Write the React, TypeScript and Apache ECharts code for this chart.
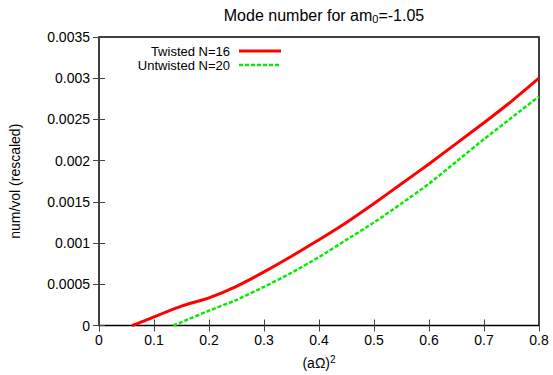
import React, { useEffect, useRef } from "react";
import * as echarts from "echarts";

const twistedX = [0.06, 0.08, 0.1, 0.15, 0.2, 0.25, 0.3, 0.35, 0.4, 0.45, 0.5, 0.55, 0.6, 0.65, 0.7, 0.75, 0.8];
const twistedY = [0, 0.00005, 0.000105, 0.000235, 0.000335, 0.000475, 0.00065, 0.00084, 0.00104, 0.00125, 0.00148, 0.00172, 0.00196, 0.00221, 0.00246, 0.00272, 0.003];
const untwistedX = [0.135, 0.15, 0.2, 0.25, 0.3, 0.35, 0.4, 0.45, 0.5, 0.55, 0.6, 0.65, 0.7, 0.75, 0.8];
const untwistedY = [0, 0.00004, 0.00018, 0.00031, 0.00047, 0.00064, 0.00083, 0.00104, 0.00125, 0.00148, 0.00172, 0.00199, 0.00226, 0.00252, 0.00278];
const seriesNames = ["Twisted N=16", "Untwisted N=20"];

const FONT = "'Liberation Sans', Arial, Helvetica, sans-serif";

export default function App() {
  const ref = useRef<HTMLDivElement>(null);
  useEffect(() => {
    document.body.style.margin = "0";
    if (!ref.current) return;
    const chart = echarts.init(ref.current, undefined, { renderer: "svg" });
    const pairs = (xs: number[], ys: number[]) => xs.map((x, i) => [x, ys[i]]);
    const axisCommon = {
      type: "value" as const,
      axisLine: { show: false },
      splitLine: { show: false },
      axisTick: { show: true, inside: true, length: 6, lineStyle: { color: "#444", width: 1 } },
    };
    chart.setOption({
      animation: false,
      backgroundColor: "#fff",
      textStyle: { fontFamily: FONT },
      title: {
        text: "{a|Mode number for am}{s|0}{a|=-1.05}",
        left: 319,
        textAlign: "center",
        top: 1,
        textStyle: {
          rich: {
            a: { fontSize: 16, fontFamily: FONT, color: "#000", fontWeight: "normal" },
            s: { fontSize: 11, fontFamily: FONT, color: "#000", fontWeight: "normal", verticalAlign: "bottom", padding: [7, 0, 0, 0] },
          },
        },
      },
      grid: { left: 97, right: 14, top: 37, bottom: 46, show: true, borderColor: "#000", borderWidth: 1.5, backgroundColor: "transparent" },
      xAxis: [
        {
          ...axisCommon,
          min: 0, max: 0.8, interval: 0.1,
          position: "bottom",
          name: "{a|(aΩ)}{s|2}",
          nameLocation: "middle",
          nameGap: 29,
          nameTextStyle: {
            rich: {
              a: { fontSize: 14, fontFamily: FONT, color: "#000" },
              s: { fontSize: 10, fontFamily: FONT, color: "#000", verticalAlign: "top", padding: [0, 0, 7, 0] },
            },
          },
          axisLabel: { color: "#000", fontSize: 14, fontFamily: FONT, margin: 7, showMaxLabel: true, showMinLabel: true },
        },
        {
          ...axisCommon,
          min: 0, max: 0.8, interval: 0.1,
          position: "top",
          axisLabel: { show: false },
        },
      ],
      yAxis: [
        {
          ...axisCommon,
          min: 0, max: 0.0035, interval: 0.0005,
          position: "left",
          name: "num/vol (rescaled)",
          nameLocation: "middle",
          nameGap: 77,
          nameRotate: 90,
          nameTextStyle: { fontSize: 14, fontFamily: FONT, color: "#000" },
          axisLabel: { color: "#000", fontSize: 14, fontFamily: FONT, margin: 9 },
        },
        {
          ...axisCommon,
          min: 0, max: 0.0035, interval: 0.0005,
          position: "right",
          axisLabel: { show: false },
        },
      ],
      series: [
        {
          name: seriesNames[0],
          type: "line",
          data: pairs(twistedX, twistedY),
          showSymbol: false,
          smooth: 0.2,
          lineStyle: { color: "#ff0000", width: 3 },
          z: 3,
        },
        {
          name: seriesNames[1],
          type: "line",
          data: pairs(untwistedX, untwistedY),
          showSymbol: false,
          smooth: 0.2,
          lineStyle: { color: "#00ee00", width: 2.5, type: [4, 2] },
          z: 2,
        },
      ],
      graphic: [
        {
          type: "text",
          x: 230,
          y: 51,
          style: { text: seriesNames[0], fill: "#000", font: `13px ${FONT}`, align: "right", verticalAlign: "middle" },
        },
        {
          type: "text",
          x: 230,
          y: 65,
          style: { text: seriesNames[1], fill: "#000", font: `13px ${FONT}`, align: "right", verticalAlign: "middle" },
        },
        { type: "line", shape: { x1: 239, y1: 51, x2: 281, y2: 51 }, style: { stroke: "#ff0000", lineWidth: 3 } },
        { type: "line", shape: { x1: 239, y1: 65, x2: 281, y2: 65 }, style: { stroke: "#00ee00", lineWidth: 2.5, lineDash: [4, 2] } },
      ],
    });
    return () => chart.dispose();
  }, []);
  return <div ref={ref} style={{ width: 553, height: 375 }} />;
}
